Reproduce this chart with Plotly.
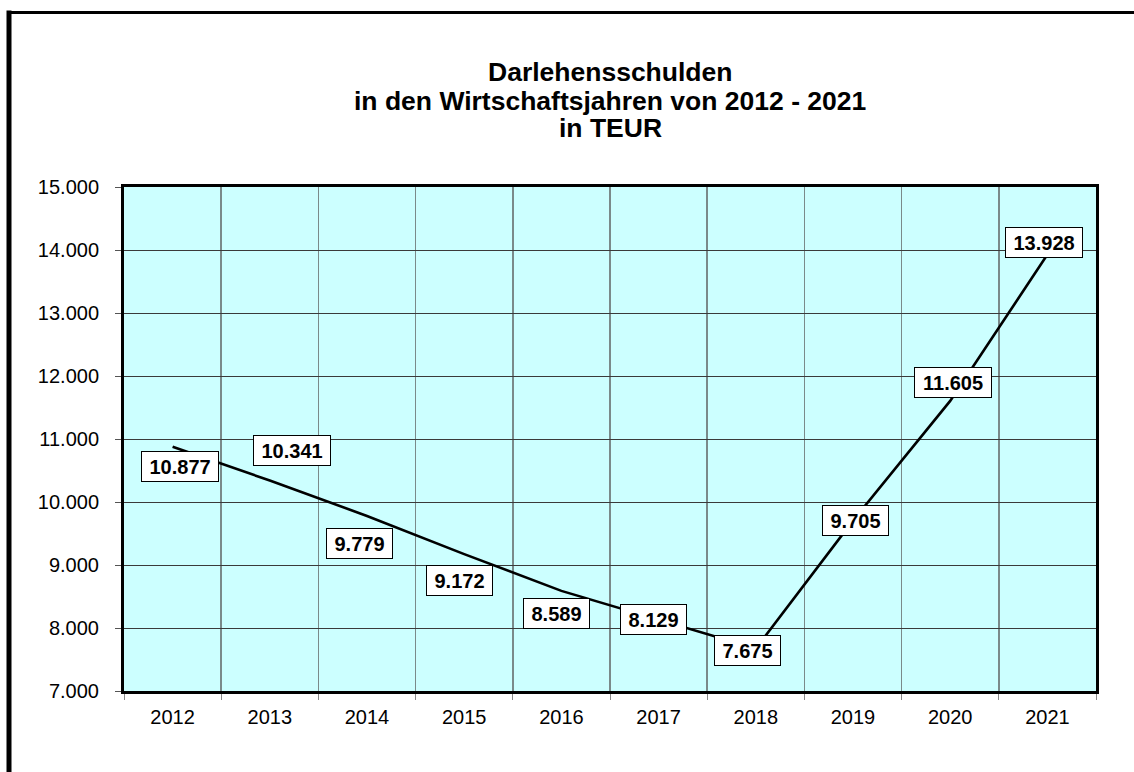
import plotly.graph_objects as go

years = ["2012", "2013", "2014", "2015", "2016", "2017", "2018", "2019", "2020", "2021"]
debt_teur = [10877, 10341, 9779, 9172, 8589, 8129, 7675, 9705, 11605, 13928]
y_ticks = [7000, 8000, 9000, 10000, 11000, 12000, 13000, 14000, 15000]
title_lines = ["Darlehensschulden", "in den Wirtschaftsjahren von 2012 - 2021", "in TEUR"]

# label box offsets in pixels (style)
label_xshift = [7, 22, -8, -5, -5, -5, -8, 2, 3, -3]
label_yshift = [-20, 30, -28, -26, -23, 0, -2, 0, 18, 12]

W, H = 1134, 772
PL, PR, PT, PB = 124, 1096, 187, 691  # plot area in page pixels
L, T = PL, PT
R, B = W - PR, H - PB
pw, ph = PR - PL, PB - PT

def px_x(x):
    return (x - PL) / pw

def px_y(y):
    return (PB - y) / ph

def fmt(v):
    return f"{v:,}".replace(",", ".")

FONT = "Arial, Liberation Sans, sans-serif"

fig = go.Figure()
fig.add_trace(go.Scatter(
    x=years, y=debt_teur, mode="lines",
    line=dict(color="black", width=2.6),
    hoverinfo="skip", showlegend=False,
))

annotations = []
for i, (v, dx, dy) in enumerate(zip(debt_teur, label_xshift, label_yshift)):
    txt = fmt(v)
    n_digits = sum(c.isdigit() for c in txt)
    w = n_digits * 11.1 + 5.6 + 11
    annotations.append(dict(
        x=i, y=v, xref="x", yref="y", text="<b>" + txt + "</b>",
        showarrow=False, xshift=dx, yshift=dy,
        font=dict(family=FONT, size=20, color="black"),
        bgcolor="white", bordercolor="black", borderwidth=1, borderpad=2,
        width=w, height=25, align="center", valign="middle",
    ))

title_y = [72, 101, 128]
for line, py in zip(title_lines, title_y):
    annotations.append(dict(
        x=0.5, y=px_y(py), xref="paper", yref="paper", text="<b>" + line + "</b>",
        showarrow=False, xanchor="center", yanchor="middle",
        font=dict(family=FONT, size=26.5, color="black"),
    ))

shapes = [
    dict(type="line", xref="paper", yref="paper",
         x0=px_x(9), x1=px_x(9), y0=px_y(10.5), y1=px_y(820),
         line=dict(color="black", width=5)),
    dict(type="line", xref="paper", yref="paper",
         x0=px_x(7), x1=px_x(1180), y0=px_y(12.5), y1=px_y(12.5),
         line=dict(color="black", width=3)),
]

fig.update_layout(
    width=W, height=H,
    margin=dict(l=L, r=R, t=T, b=B, pad=0),
    paper_bgcolor="white", plot_bgcolor="#CCFFFF",
    font=dict(family=FONT, size=20, color="black"),
    annotations=annotations, shapes=shapes,
    showlegend=False,
)
fig.update_xaxes(
    type="category", tickson="boundaries", range=[-0.5, len(years) - 0.5],
    showgrid=True, gridcolor="#7a8a8a", gridwidth=1.5,
    showline=True, linecolor="black", linewidth=3, mirror=True,
    ticks="outside", ticklen=6, tickcolor="#888888", tickwidth=1,
    ticklabelstandoff=6, tickangle=0,
    tickfont=dict(family=FONT, size=20, color="black"),
)
fig.update_yaxes(
    range=[7000, 15000], tickvals=y_ticks, ticktext=[fmt(v) for v in y_ticks],
    showgrid=True, gridcolor="#3a3a3a", gridwidth=1,
    showline=True, linecolor="black", linewidth=3, mirror=True,
    ticks="outside", ticklen=6, tickcolor="#555555", tickwidth=1,
    ticklabelstandoff=12, zeroline=False,
    tickfont=dict(family=FONT, size=20, color="black"),
)

fig.write_html(
    "out.html",
    config={"displayModeBar": False, "staticPlot": True},
    post_script="document.body.style.margin='0';document.body.style.overflow='hidden';",
)
